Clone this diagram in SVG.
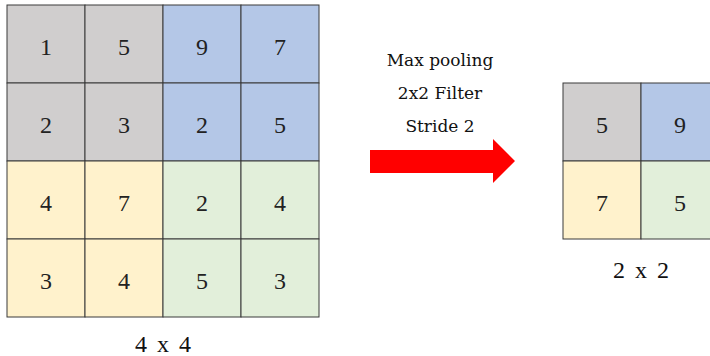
<svg xmlns="http://www.w3.org/2000/svg" width="710" height="356" viewBox="0 0 710 356">
  <style>
    .cell { stroke: #3a3a3a; stroke-width: 1; }
    .gray { fill: #d0cece; }
    .blue { fill: #b4c7e7; }
    .yellow { fill: #fff2cc; }
    .green { fill: #e2efda; }
    .num { font-family: "Liberation Serif", "DejaVu Serif", serif; font-size: 24px; fill: #222; text-anchor: middle; }
    .cap { font-family: "Liberation Serif", "DejaVu Serif", serif; font-size: 24px; fill: #111; text-anchor: middle; word-spacing: 4px; }
    .lbl { font-family: "DejaVu Serif", "Liberation Serif", serif; font-size: 17px; fill: #111; text-anchor: middle; }
  </style>

  <!-- 4x4 input matrix -->
  <g id="input-grid">
    <rect class="cell gray" x="7" y="5" width="78" height="78"/>
    <rect class="cell gray" x="85" y="5" width="78" height="78"/>
    <rect class="cell blue" x="163" y="5" width="78" height="78"/>
    <rect class="cell blue" x="241" y="5" width="78" height="78"/>
    <rect class="cell gray" x="7" y="83" width="78" height="78"/>
    <rect class="cell gray" x="85" y="83" width="78" height="78"/>
    <rect class="cell blue" x="163" y="83" width="78" height="78"/>
    <rect class="cell blue" x="241" y="83" width="78" height="78"/>
    <rect class="cell yellow" x="7" y="161" width="78" height="78"/>
    <rect class="cell yellow" x="85" y="161" width="78" height="78"/>
    <rect class="cell green" x="163" y="161" width="78" height="78"/>
    <rect class="cell green" x="241" y="161" width="78" height="78"/>
    <rect class="cell yellow" x="7" y="239" width="78" height="78"/>
    <rect class="cell yellow" x="85" y="239" width="78" height="78"/>
    <rect class="cell green" x="163" y="239" width="78" height="78"/>
    <rect class="cell green" x="241" y="239" width="78" height="78"/>
    <text class="num" x="46" y="55">1</text>
    <text class="num" x="124" y="55">5</text>
    <text class="num" x="202" y="55">9</text>
    <text class="num" x="280" y="55">7</text>
    <text class="num" x="46" y="133">2</text>
    <text class="num" x="124" y="133">3</text>
    <text class="num" x="202" y="133">2</text>
    <text class="num" x="280" y="133">5</text>
    <text class="num" x="46" y="211">4</text>
    <text class="num" x="124" y="211">7</text>
    <text class="num" x="202" y="211">2</text>
    <text class="num" x="280" y="211">4</text>
    <text class="num" x="46" y="289">3</text>
    <text class="num" x="124" y="289">4</text>
    <text class="num" x="202" y="289">5</text>
    <text class="num" x="280" y="289">3</text>
    <text class="cap" x="163" y="352">4 x 4</text>
  </g>

  <!-- operation description -->
  <g id="operation">
    <text class="lbl" x="440" y="66">Max pooling</text>
    <text class="lbl" x="440" y="99">2x2 Filter</text>
    <text class="lbl" x="440" y="132">Stride 2</text>
  </g>

  <g id="connectors">
    <polygon points="370,150 493,150 493,139 515,161 493,183 493,173 370,173" fill="#ff0000"/>
  </g>

  <!-- 2x2 pooled output -->
  <g id="output-grid">
    <rect class="cell gray" x="563" y="83" width="78" height="78"/>
    <rect class="cell blue" x="641" y="83" width="78" height="78"/>
    <rect class="cell yellow" x="563" y="161" width="78" height="78"/>
    <rect class="cell green" x="641" y="161" width="78" height="78"/>
    <text class="num" x="602" y="133">5</text>
    <text class="num" x="680" y="133">9</text>
    <text class="num" x="602" y="211">7</text>
    <text class="num" x="680" y="211">5</text>
    <text class="cap" x="641" y="278">2 x 2</text>
  </g>
</svg>
